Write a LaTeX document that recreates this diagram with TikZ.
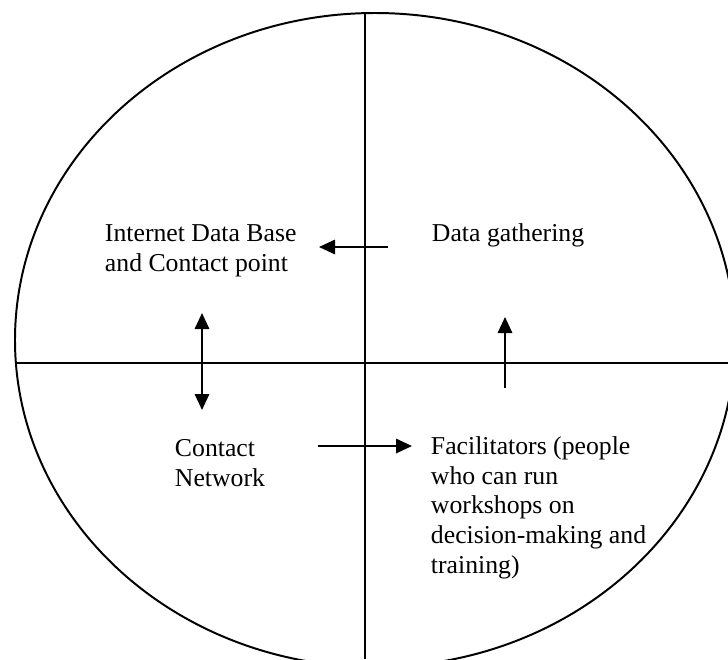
\documentclass[tikz,border=0pt]{standalone}
\usepackage{fontspec}
\setmainfont{Liberation Serif}
\usetikzlibrary{arrows.meta}

\begin{document}
\begin{tikzpicture}[x=0.025cm,y=-0.025cm,line width=1.4pt,
        >={Triangle[length=0.4cm,width=0.36cm]},
        txt/.style={anchor=base west,inner sep=0pt,align=left,
          font=\fontsize{18.3}{21}\selectfont}]

        \useasboundingbox (0,0) rectangle (728,659);
        \clip (0,0) rectangle (728,659);

        % circle and the four quarters
        \draw (375,340) ellipse [x radius=360, y radius=327];
        \draw (365,13) -- (365,659);
        \draw (15.5,363) -- (728,363);

        % texts (base = baseline of the last line)
        \node[txt] (base) at (104,271.5) {Internet Data Base\\and Contact point};
        \node[txt] (gather) at (431,241) {Data gathering};
        \node[txt] (contact) at (174,486.5) {Contact\\Network};
        \node[txt] (facil) at (430,573) {Facilitators (people\\who can run\\workshops on\\decision-making and\\training)};

        % arrows
        \coordinate (a1) at (388,247);
        \coordinate (b1) at (319,247);
        \draw[->] (a1) -- (b1);

        \coordinate (a2) at (505,388);
        \coordinate (b2) at (505,317);
        \draw[->] (a2) -- (b2);

        \coordinate (a3) at (202,313);
        \coordinate (b3) at (202,410);
        \draw[<->] (a3) -- (b3);

        \coordinate (a4) at (318,446);
        \coordinate (b4) at (412,446);
        \draw[->] (a4) -- (b4);
\end{tikzpicture}
\end{document}
